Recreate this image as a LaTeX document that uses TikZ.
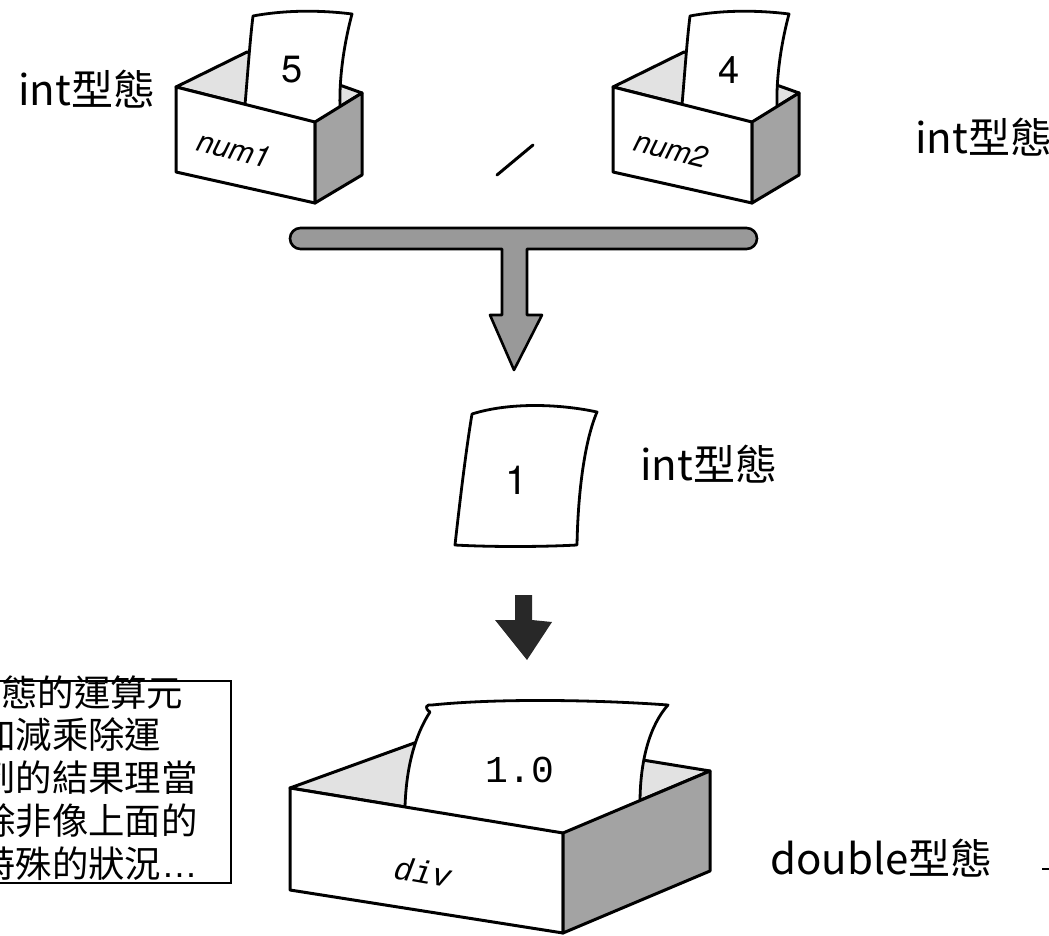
\documentclass[tikz,border=0pt]{standalone}
\usepackage{fontspec}
\setmainfont{Liberation Sans}
\setmonofont{Liberation Mono}
\newfontfamily\cjk{Noto Sans CJK TC}
\newfontfamily\digits{TeX Gyre Heros}
\usetikzlibrary{positioning}
\definecolor{boxinner}{RGB}{226,226,226}
\definecolor{boxside}{RGB}{163,163,163}
\definecolor{barfill}{RGB}{153,153,153}
\definecolor{ink}{RGB}{40,40,40}

% small variable box holding one int card
\newcommand{\smallbox}[3]{%
  \filldraw[face,fill=boxinner] (176,87) -- (247,52) -- (362,93) -- (315,122) -- cycle;
  \filldraw[paper] (247,130) -- (245,105) .. controls (248,70) and (250,40) .. (253,16)
     .. controls (285,10) and (320,10) .. (352,14) .. controls (345,40) and (339,75) .. (340,107)
     -- (340,130) -- cycle;
  \node[digit] (#3val) at (292,70) {#1};
  \filldraw[face,fill=white] (176,87) -- (315,122) -- (315,203) -- (176,172) -- cycle;
  \filldraw[face,fill=boxside] (315,122) -- (362,93) -- (362,175) -- (315,203) -- cycle;
  \node[tag,rotate=-14] (#3tag) at (234,149) {#2};
}

\begin{document}
\begin{tikzpicture}[x=0.5pt,y=-0.5pt,
  face/.style={draw=black,line width=1.5pt,line join=round},
  paper/.style={draw=black,fill=white,line width=1.4pt,line join=round},
  digit/.style={inner sep=0pt,font=\digits\fontsize{19pt}{19pt}\selectfont},
  tag/.style={inner sep=0pt,font=\digits\itshape\fontsize{15pt}{15pt}\selectfont},
  typelabel/.style={anchor=west,inner sep=0pt,font=\cjk\fontsize{21pt}{21pt}\selectfont},
  memo/.style={anchor=north west,inner sep=0pt,align=left,font=\cjk\fontsize{18.2pt}{21.4pt}\selectfont},
  bar/.style={draw=black,fill=barfill,line width=1.3pt,line join=round}]
  \useasboundingbox (0,0) rectangle (1049,936);

  \smallbox{5}{num1}{a}
  \begin{scope}[shift={(437,0)}]
    \smallbox{4}{num2}{b}
  \end{scope}
  \draw[line width=1.5pt,line cap=round] (497,175) -- (533,145);

  \node[typelabel] (ta) at (18,89) {int型態};
  \node[typelabel] (tb) at (915,137) {int型態};

  \filldraw[bar] (600,249) [rounded corners=5.25pt] -- (757,249) -- (757,228) -- (290,228)
     -- (290,249) -- (400,249) [sharp corners] -- (502,249) -- (502,315) -- (490,315)
     -- (514,370) -- (542,315) -- (527,315) -- (527,249) -- cycle;

  \filldraw[paper] (455,545) .. controls (460,500) and (466,450) .. (472,414)
     .. controls (510,402) and (560,404) .. (597,412)
     .. controls (585,440) and (578,490) .. (577,545)
     .. controls (540,547) and (490,547) .. (455,545) -- cycle;
  \node[digit,font=\digits\fontsize{20pt}{20pt}\selectfont] (res) at (517,480) {1};
  \node[typelabel] (tc) at (640,464) {int型態};

  \fill[ink] (515,595) -- (532,595) -- (532,620) -- (552,622) -- (527,660) -- (495,620)
     -- (515,620) -- cycle;

  % the double box
  \filldraw[face,fill=boxinner] (290,788) -- (453,729) -- (710,771) -- (563,833) -- cycle;
  \filldraw[paper] (405,845) -- (405,807) .. controls (406,775) and (412,740) .. (430,712)
     .. controls (424,708) and (426,704) .. (432,705)
     .. controls (500,698) and (600,700) .. (668,705)
     .. controls (650,725) and (640,760) .. (640,803) -- (640,845) -- cycle;
  \node[font=\ttfamily\fontsize{19pt}{19pt}\selectfont,inner sep=0pt] (dval) at (520,770) {1.0};
  \filldraw[face,fill=white] (290,788) -- (563,833) -- (563,933) -- (290,890) -- cycle;
  \filldraw[face,fill=boxside] (563,833) -- (710,771) -- (710,871) -- (563,933) -- cycle;
  \node[font=\ttfamily\itshape\fontsize{16pt}{16pt}\selectfont,inner sep=0pt,rotate=-10] (dtag) at (423,872) {div};
  \node[typelabel] (td) at (770,858) {double型態};
  \draw[line width=1pt] (1042,869) -- (1049,869);

  \draw[line width=0.7pt] (-10,681) rectangle (231,883);
  \node[memo] (memo) at (-21,675) {\hspace*{11pt}態的運算元\\加減乘除運\\到的結果理當\\除非像上面的\\特殊的狀況{\normalfont …}};
\end{tikzpicture}
\end{document}
